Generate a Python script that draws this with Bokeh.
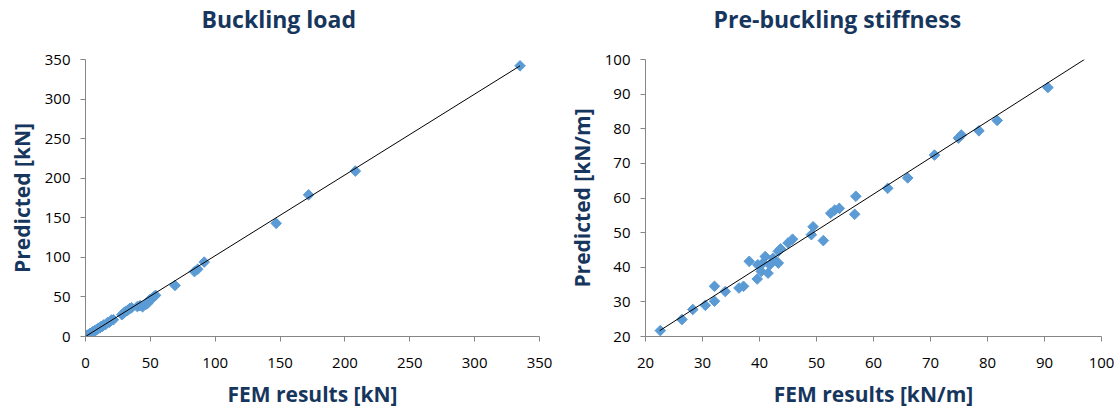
import numpy as np
from bokeh.plotting import figure
from bokeh.layouts import row
from bokeh.models import Range1d, SingleIntervalTicker, Title
from bokeh.embed import file_html
from bokeh.resources import INLINE

# ---- Buckling load data (kN) ----
fem_load = [0.5, 1.5, 2.5, 3.5, 4.5, 5.5, 6.5, 7.5, 8.5, 10, 11, 12, 13, 14, 15.5, 17, 18.5, 20, 21.5,
            28, 29.5, 31, 32.5, 34, 35.5, 40, 42, 44, 46.5, 48, 49.5, 51, 52.5, 54,
            69, 84, 86.5, 91.5, 147, 172, 208, 335]
pred_load = [0.5, 1.8, 2.4, 3.9, 4.3, 5.9, 6.2, 7.9, 8.3, 10.5, 10.8, 12.6, 12.8, 14.5, 15.2, 17.6, 18.1, 20.8, 21.2,
             27.5, 29.6, 31.8, 33.0, 35.2, 36.4, 37.8, 39.0, 37.5, 40.5, 42.0, 46.5, 47.5, 50.0, 52.0,
             64.5, 82.0, 85.0, 94.0, 143.0, 179.0, 209.0, 342.0]
trend_load_x = [0.5, 335]
trend_load_y = [0.5, 342]

# ---- Pre-buckling stiffness data (kN/m) ----
fem_stiff = [22.6, 26.4, 28.3, 30.5, 32.1, 32.1, 34.0, 36.4, 37.2, 38.2, 39.6, 39.7, 40.3, 40.6, 41.0,
             41.5, 41.8, 42.4, 43.3, 43.3, 43.7, 45.0, 45.8, 49.1, 49.4, 51.2, 52.5, 53.2, 54.0,
             56.7, 56.9, 62.5, 66.0, 70.7, 74.9, 75.4, 78.5, 81.7, 90.6]
pred_stiff = [21.7, 24.9, 27.8, 29.0, 34.5, 30.2, 33.0, 34.0, 34.5, 41.7, 36.6, 40.7, 38.8, 41.2, 43.1,
              38.3, 40.7, 42.6, 41.2, 44.6, 45.3, 47.0, 48.1, 49.4, 51.7, 47.7, 55.6, 56.5, 57.0,
              55.3, 60.5, 62.8, 65.8, 72.4, 77.3, 78.2, 79.4, 82.4, 91.9]
trend_stiff_x = [22.5, 97.0]
trend_stiff_y = [21.7, 100.0]

NAVY = "#17365D"
BLUE = "#5B9BD5"
AX = "#868686"
FONT = "Open Sans"
H = 410
TOP, BOTTOM = 59, 73


def make(title, xlab, ylab, xr, yr, step, xs, ys, tx, ty, width, mleft, mright, title_offset):
    p = figure(width=width, height=H, x_range=Range1d(*xr), y_range=Range1d(*yr),
               output_backend="svg", toolbar_location=None, title=None,
               min_border_left=mleft, min_border_right=mright,
               min_border_top=TOP, min_border_bottom=BOTTOM)
    p.outline_line_color = None
    p.xgrid.visible = False
    p.ygrid.visible = False
    for ax in (p.xaxis[0], p.yaxis[0]):
        ax.ticker = SingleIntervalTicker(interval=step)
        ax.minor_tick_line_color = None
        ax.axis_line_color = AX
        ax.major_tick_line_color = AX
        ax.major_tick_in = 0
        ax.major_tick_out = 5
        ax.major_label_text_font = FONT
        ax.major_label_text_font_size = "15px"
        ax.major_label_text_color = "#000000"
        ax.axis_label_text_font = FONT
        ax.axis_label_text_font_size = "21px"
        ax.axis_label_text_font_style = "bold"
        ax.axis_label_text_color = NAVY
    p.xaxis.axis_label = xlab
    p.yaxis.axis_label = ylab
    p.xaxis.major_label_standoff = 16
    p.yaxis.major_label_standoff = 10
    p.xaxis.axis_label_standoff = 9
    p.yaxis.axis_label_standoff = 6
    p.scatter(xs, ys, marker="square", size=7.5, angle=np.pi / 4,
              fill_color=BLUE, line_color=BLUE)
    p.line(tx, ty, line_color="black", line_width=1)
    # spacer between frame and title (closest to frame), then the title (outermost)
    p.add_layout(Title(text=" ", text_font=FONT, text_font_size="14px", standoff=0), "above")
    p.add_layout(Title(text=title, text_font=FONT, text_font_size="23px", text_font_style="bold",
                       text_color=NAVY, align="left", offset=title_offset,
                       vertical_align="top", standoff=4), "above")
    return p


p1 = make("Buckling load", "FEM results [kN]", "Predicted [kN]", (0, 350), (0, 350), 50,
          fem_load, pred_load, trend_load_x, trend_load_y, 558, 85, 19, 116)
p2 = make("Pre-buckling stiffness", "FEM results [kN/m]", "Predicted [kN/m]", (20, 100), (20, 100), 10,
          fem_stiff, pred_stiff, trend_stiff_x, trend_stiff_y, 559, 87, 16, 68)

layout = row(p1, p2)
open("out.html", "w").write(file_html(layout, INLINE))
